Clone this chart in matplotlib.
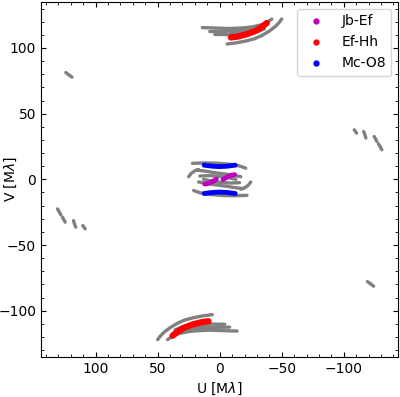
import matplotlib
matplotlib.use('Agg')
import matplotlib.pyplot as plt
from matplotlib.lines import Line2D
from matplotlib.ticker import MultipleLocator

plt.rcParams.update({
    'font.size': 10,
    'xtick.direction': 'in', 'ytick.direction': 'in',
    'xtick.top': True, 'ytick.right': True,
})

# uv tracks (M lambda), one half only; the conjugate half is (-u, -v)
grey_u = [
    [14, 4, -8, -18, -26, -33, -38, -42],
    [8, -2, -12, -21, -29, -35, -39],
    [4, -6, -15, -23, -31, -36],
    [-6, -14, -21, -28, -34, -40, -45, -48, -50],
    [-9, -18, -27, -34, -38],
    [22, 12, 2, -8, -16, -21],
    [25, 23, 20, 17],
    [19, 12, 5, -3, -10, -17],
    [16, 9, 2, -6, -13],
    [124, 121.5, 119],
    [-108.4, -110.3],
    [-116, -117, -117.8],
    [-124.5, -126.7],
    [-128, -129.3, -130.7],
]
grey_v = [
    [115.5, 115.2, 114.8, 115.2, 116, 117.5, 119.5, 122],
    [112.5, 112.6, 113, 113.8, 115, 117, 119],
    [110.3, 110.2, 110.5, 111.3, 112.6, 114.5],
    [103, 104, 105.3, 107, 109.5, 112.9, 116.5, 119.5, 122],
    [111, 111.8, 114, 117, 120],
    [12.2, 12.5, 12.3, 11.5, 10.2, 8.5],
    [2, 4.5, 6.5, 7.5],
    [7, 6.3, 5.2, 4.2, 3.3, 2],
    [2.5, 2.8, 2.5, 1.5, 0],
    [81.3, 79.5, 77.8],
    [37.7, 35.2],
    [36.4, 34, 31.4],
    [32.6, 28.8],
    [27, 24.8, 22.5],
]

base_labels = ['Jb-Ef', 'Ef-Hh', 'Mc-O8']
base_colors = ['m', 'red', 'blue']
base_u = [
    [12, 9.5, 7, 4.5, 2.7],
    [-9, -15, -22, -29, -34, -38],
    [12.5, 6, 0, -6, -12.5],
]
base_v = [
    [-3.6, -3.1, -2.2, -1, 0.2],
    [108, 108.8, 110.5, 113, 116, 119],
    [10.8, 10, 9.7, 10, 10.8],
]
base_lw = [3.5, 4.5, 3.5]

fig = plt.figure(figsize=(4.0, 3.97), dpi=100)
ax = fig.add_axes([0.1025, 0.1015, 0.8935, 0.8935])

for u, v in zip(grey_u, grey_v):
    for s in (1, -1):
        ax.plot([s * x for x in u], [s * y for y in v], '-', color='grey',
                lw=2.4, solid_capstyle='round', zorder=2)

handles = []
for lab, c, u, v, lw in zip(base_labels, base_colors, base_u, base_v, base_lw):
    for s in (1, -1):
        ax.plot([s * x for x in u], [s * y for y in v], '-', color=c,
                lw=lw, solid_capstyle='round', zorder=3)
    handles.append(Line2D([], [], ls='none', marker='.', color=c,
                          markersize=7, label=lab))

ax.set_xlim(144, -144)
ax.set_ylim(-135, 135)
ax.xaxis.set_major_locator(MultipleLocator(50))
ax.yaxis.set_major_locator(MultipleLocator(50))
ax.xaxis.set_minor_locator(MultipleLocator(10))
ax.yaxis.set_minor_locator(MultipleLocator(10))
ax.tick_params(which='both', direction='in', top=True, right=True)
ax.set_xlabel(r'U [M$\lambda$]')
ax.set_ylabel(r'V [M$\lambda$]')
ax.yaxis.set_label_coords(-0.062, 0.5)
ax.legend(handles=handles, loc='upper right')

fig.savefig('out.png', dpi=100)
